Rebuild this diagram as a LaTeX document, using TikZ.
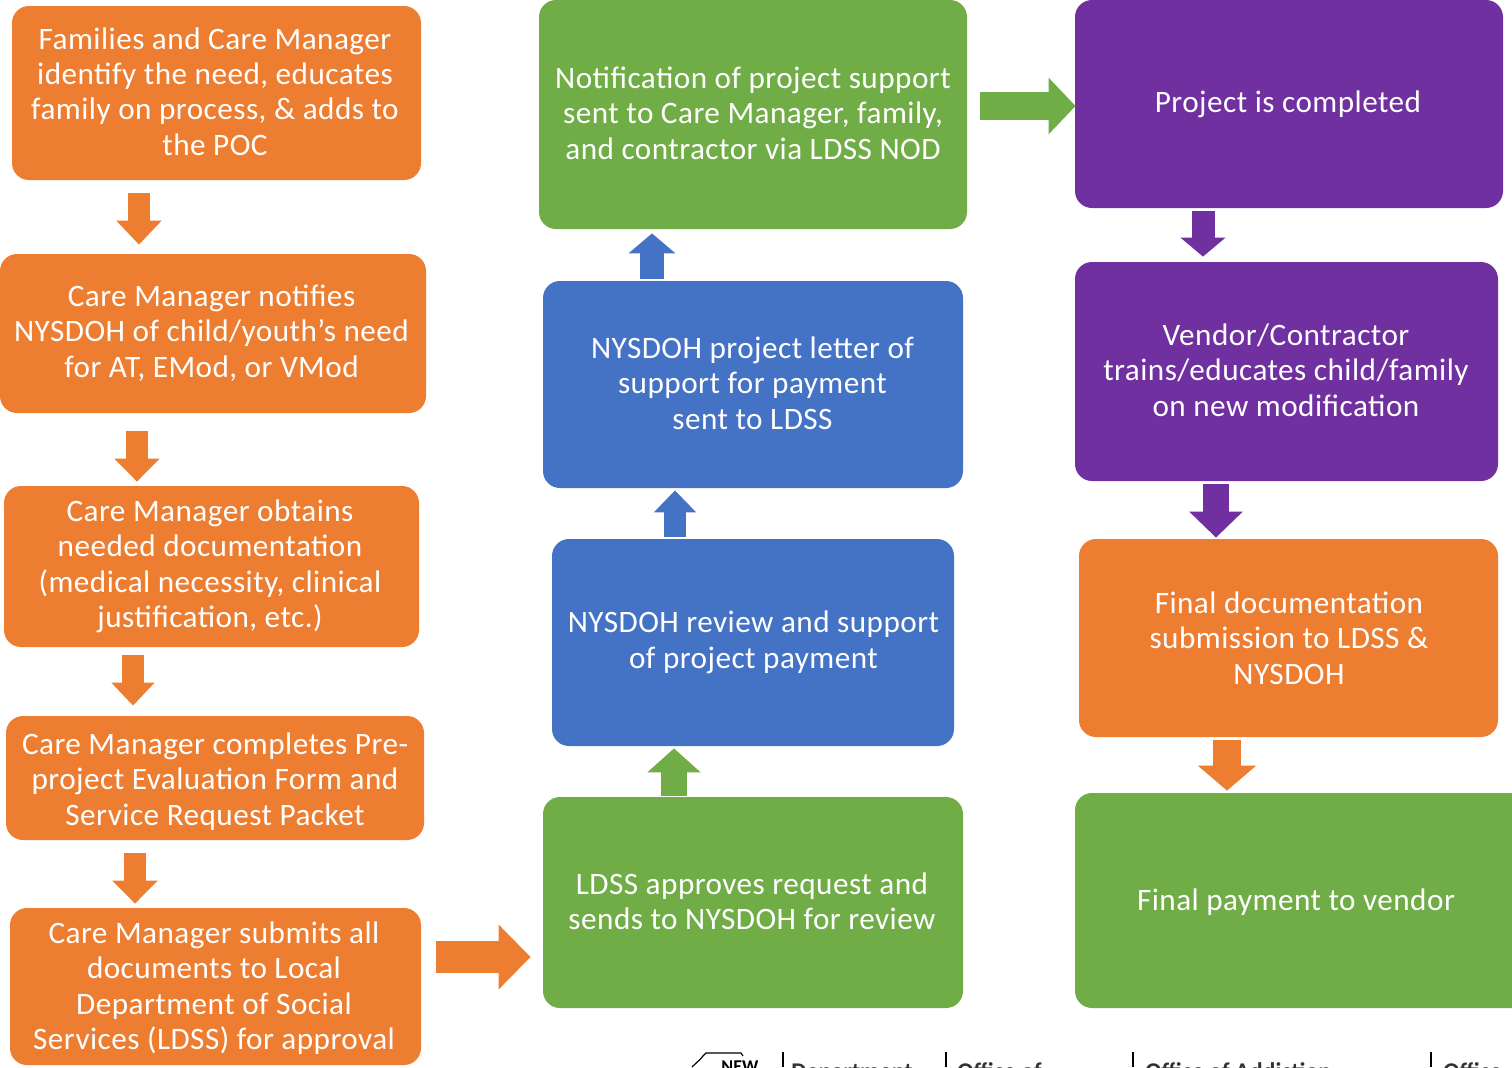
\documentclass[tikz,border=0pt]{standalone}
\usepackage{fontspec}
\setmainfont{Carlito}
\usetikzlibrary{arrows.meta}
\definecolor{org}{HTML}{ED7D31}
\definecolor{grn}{HTML}{70AD47}
\definecolor{blu}{HTML}{4472C4}
\definecolor{pur}{HTML}{7030A0}
\tikzset{
  x=0.5pt,y=-0.5pt,
  flowbox/.style={rectangle,rounded corners=8.5pt,inner sep=0pt,draw=none},
  flowtext/.style={text=white,align=center,inner sep=0pt,font=\fontsize{15.6}{17.7}\selectfont\addfontfeatures{LetterSpace=1.5}},
}
% name x1 y1 x2 y2 colour textcentre-x textcentre-y text
\newcommand{\flowbx}[9]{%
  \pgfmathsetmacro{\bw}{(#4-#2)*0.5}\pgfmathsetmacro{\bh}{(#5-#3)*0.5}%
  \node[flowbox,fill=#6,minimum width=\bw pt,minimum height=\bh pt] (#1) at ({(#2+#4)/2},{(#3+#5)/2}) {};
  \node[flowtext] (#1t) at (#7,#8) {#9};
}
\newcommand{\blockarr}[6]{%
  \draw[#1,line width=#2*0.5pt,line cap=butt,-{Triangle[length=#4*0.5pt,width=#3*0.5pt,sep=0pt]}] #5 -- #6;
}
\begin{document}
\begin{tikzpicture}
\useasboundingbox (0,0) rectangle (1512,1067);
\fill[white] (0,0) rectangle (1512,1067);
\flowbx{a1}{12}{6}{421}{180}{org}{215}{91.5}{Families and Care Manager\\identify the need, educates\\family on process, \& adds to\\the POC}
\flowbx{a2}{0}{254}{426}{413}{org}{211.5}{333}{Care Manager notifies\\NYSDOH of child/youth’s need\\for AT, EMod, or VMod}
\flowbx{a3}{4}{486}{419}{647}{org}{210}{566.5}{Care Manager obtains\\needed documentation\\(medical necessity, clinical\\justification, etc.)}
\flowbx{a4}{6}{716}{424}{840}{org}{215}{781.5}{Care Manager completes Pre-\\project Evaluation Form and\\Service Request Packet}
\flowbx{a5}{10}{908}{421}{1065}{org}{214}{988}{Care Manager submits all\\documents to Local\\Department of Social\\Services (LDSS) for approval}
\flowbx{b1}{539}{0}{967}{229}{grn}{753}{113}{Notification of project support\\sent to Care Manager, family,\\and contractor via LDSS NOD}
\flowbx{b2}{543}{281}{963}{488}{blu}{752.5}{383}{NYSDOH project letter of\\support for payment\\sent to LDSS}
\flowbx{b3}{552}{539}{954}{746}{blu}{753.5}{642.5}{NYSDOH review and support\\of project payment}
\flowbx{b4}{543}{797}{963}{1008}{grn}{752}{901}{LDSS approves request and\\sends to NYSDOH for review}
\flowbx{c1}{1075}{0}{1503}{208}{pur}{1288}{104}{Project is completed}
\flowbx{c2}{1075}{262}{1498}{481}{pur}{1286}{370}{Vendor/Contractor\\trains/educates child/family\\on new modification}
\flowbx{c3}{1079}{539}{1498}{737}{org}{1289}{638}{Final documentation\\submission to LDSS \&\\NYSDOH}
\flowbx{c4}{1075}{793}{1530}{1008}{grn}{1296}{902}{Final payment to vendor}
\blockarr{org}{22}{44}{24}{([xshift=-38.75pt,yshift=-6.5pt]a1.south)}{([xshift=-37pt,yshift=4.5pt]a2.north)}
\blockarr{org}{22}{44}{23}{([xshift=-38pt,yshift=-9pt]a2.south)}{([xshift=-37.25pt,yshift=2pt]a3.north)}
\blockarr{org}{22}{42}{23}{([xshift=-39.25pt,yshift=-4pt]a3.south)}{([xshift=-41pt,yshift=5pt]a4.north)}
\blockarr{org}{22}{44}{23}{([xshift=-40pt,yshift=-6.5pt]a4.south)}{([xshift=-40.25pt,yshift=2pt]a5.north)}
\blockarr{org}{32}{63}{32}{([xshift=7.5pt,yshift=14.75pt]a5.east)}{([xshift=-6pt,yshift=-27.25pt]b4.west)}
\blockarr{grn}{26}{52}{24}{([xshift=-39.5pt,yshift=0.5pt]b4.north)}{([xshift=-39.5pt,yshift=-1pt]b3.south)}
\blockarr{blu}{22}{41}{22}{([xshift=-39pt,yshift=1pt]b3.north)}{([xshift=-39pt,yshift=-1pt]b2.south)}
\blockarr{blu}{24}{46}{20}{([xshift=-50.5pt,yshift=1pt]b2.north)}{([xshift=-50.5pt,yshift=-2pt]b1.south)}
\blockarr{grn}{28}{55}{27}{([xshift=6.5pt,yshift=4.25pt]b1.east)}{([xshift=0.5pt,yshift=-1pt]c1.west)}
\blockarr{pur}{23}{44}{19}{([xshift=-43pt,yshift=-1.5pt]c1.south)}{([xshift=-41.75pt,yshift=2.5pt]c2.north)}
\blockarr{pur}{26}{52}{26}{([xshift=-35.25pt,yshift=-1.5pt]c2.south)}{([xshift=-36.25pt,yshift=0.5pt]c3.north)}
\blockarr{org}{28}{57}{25}{([xshift=-30.75pt,yshift=-1.5pt]c3.south)}{([xshift=-37.75pt,yshift=1pt]c4.north)}
% cut-off footer at the page edge
\draw[black,line width=0.6pt] (692,1067) .. controls (697,1062) and (700,1060) .. (703,1056) -- (706,1053) -- (741,1053) -- (743,1056);
\foreach \lx in {783,946,1133,1431} \draw[black,line width=0.6pt] (\lx,1052) -- (\lx,1067);
\node[anchor=base west,inner sep=0pt,font=\bfseries\fontsize{9}{10}\selectfont] (fnew) at (721,1072) {NEW};
\node[anchor=base west,inner sep=0pt,font=\bfseries\fontsize{12}{14}\selectfont,text=black!80] (f1) at (791,1079) {Department};
\node[anchor=base west,inner sep=0pt,font=\bfseries\fontsize{12}{14}\selectfont,text=black!80] (f2) at (957,1079) {Office of};
\node[anchor=base west,inner sep=0pt,font=\bfseries\fontsize{12}{14}\selectfont,text=black!80] (f3) at (1145,1079) {Office of Addiction};
\node[anchor=base west,inner sep=0pt,font=\bfseries\fontsize{12}{14}\selectfont,text=black!80] (f4) at (1443,1079) {Office};
\end{tikzpicture}
\end{document}
